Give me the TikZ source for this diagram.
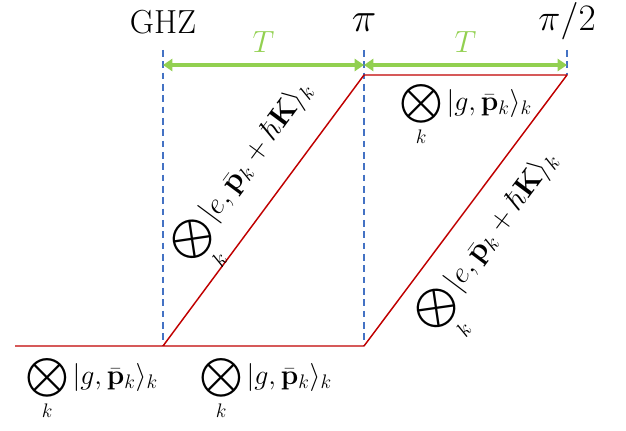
\RequirePackage{fix-cm}
\documentclass[tikz,border=0pt]{standalone}
\usepackage{amsmath}
\usetikzlibrary{arrows.meta}
\definecolor{pulseblue}{RGB}{68,114,196}
\definecolor{armred}{RGB}{192,0,0}
\definecolor{spangreen}{RGB}{146,208,80}
\begin{document}
\begin{tikzpicture}[x=0.75pt,y=-0.75pt,>={Triangle[length=7pt,width=9pt]},line join=round,
	pulse/.style={draw=pulseblue,line width=1pt,dash pattern=on 5pt off 3.5pt},
	arm/.style={draw=armred,line width=1.1pt},
	span/.style={<->,draw=spangreen,line width=2.8pt},
	lab/.style={font=\fontsize{21}{25}\selectfont,inner sep=1pt},
	top/.style={font=\fontsize{25}{30}\selectfont,inner sep=0pt}]
	\def\ground{$\displaystyle\bigotimes_k |g,\bar{\mathbf{p}}_k\rangle_k$}
	\def\excited{$\displaystyle\bigotimes_k |e,\bar{\mathbf{p}}_k+\hbar\mathbf{K}\rangle_k$}
	\useasboundingbox (0,0) rectangle (626,431);
	% pulses
	\node[top] (ghz) at (163,22) {GHZ};
	\node[top,font=\fontsize{31}{36}\selectfont] (pi) at (364,23) {$\pi$};
	\node[top,font=\fontsize{28}{32}\selectfont] (pihalf) at (567,21) {$\pi/2$};
	\coordinate (t0) at (163,50); \coordinate (t1) at (364,50); \coordinate (t2) at (567,50);
	\coordinate (b0) at (163,346); \coordinate (b1) at (364,346);
	\coordinate (u1) at (364,75); \coordinate (u2) at (567,75);
	\coordinate (start) at (15,346);
	\draw[pulse] (t0) -- (b0);
	\draw[pulse] (t1) -- (b1);
	\draw[pulse] (t2) -- (u2);
	% free evolution time
	\coordinate (a0) at (163,65); \coordinate (a1) at (364,65); \coordinate (a2) at (567,65);
	\draw[span] (a0) -- (a1) node[midway,above=5pt,text=spangreen,font=\fontsize{23}{27}\selectfont] (tleft) {$T$};
	\draw[span] (a1) -- (a2) node[midway,above=5pt,text=spangreen,font=\fontsize{23}{27}\selectfont] (tright) {$T$};
	% arms
	\draw[arm] (start) -- (b1) -- (u2) -- (u1) -- (b0);
	\path (b0) -- (u1) node[lab,font=\fontsize{22.5}{26}\selectfont,sloped,above=-4pt,pos=0.56] (exc1) {\excited};
	\path (b1) -- (u2) node[lab,font=\fontsize{22.5}{26}\selectfont,sloped,below=9pt,pos=0.47] (exc2) {\excited};
	\node[lab] (gnd0) at (92,388) {\ground};
	\node[lab] (gnd1) at (266,388) {\ground};
	\node[lab] (gnd2) at (466,114) {\ground};
\end{tikzpicture}
\end{document}
